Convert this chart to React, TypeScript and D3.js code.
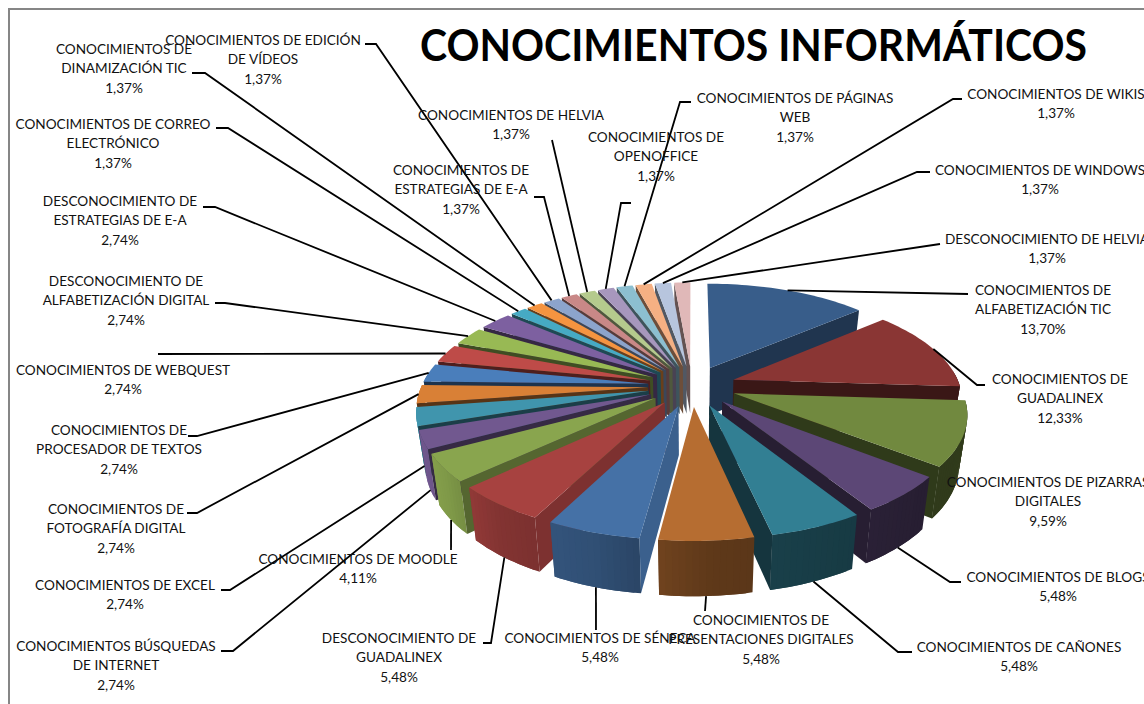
import React from "react";
import * as d3 from "d3";

const titleText = "CONOCIMIENTOS INFORMÁTICOS";

const values = [13.7, 12.33, 9.59, 5.48, 5.48, 5.48, 5.48, 5.48, 4.11, 2.74, 2.74, 2.74, 2.74, 2.74, 2.74, 2.74, 1.37, 1.37, 1.37, 1.37, 1.37, 1.37, 1.37, 1.37, 1.37, 1.37];

const percentLabels = ["13,70%", "12,33%", "9,59%", "5,48%", "5,48%", "5,48%", "5,48%", "5,48%", "4,11%", "2,74%", "2,74%", "2,74%", "2,74%", "2,74%", "2,74%", "2,74%", "1,37%", "1,37%", "1,37%", "1,37%", "1,37%", "1,37%", "1,37%", "1,37%", "1,37%", "1,37%"];

const categoryLines = [
  ["CONOCIMIENTOS DE", "ALFABETIZACIÓN TIC"],
  ["CONOCIMIENTOS DE", "GUADALINEX"],
  ["CONOCIMIENTOS DE PIZARRAS", "DIGITALES"],
  ["CONOCIMIENTOS DE BLOGS"],
  ["CONOCIMIENTOS DE CAÑONES"],
  ["CONOCIMIENTOS DE", "PRESENTACIONES DIGITALES"],
  ["CONOCIMIENTOS DE SÉNECA"],
  ["DESCONOCIMIENTO DE", "GUADALINEX"],
  ["CONOCIMIENTOS DE MOODLE"],
  ["CONOCIMIENTOS BÚSQUEDAS", "DE INTERNET"],
  ["CONOCIMIENTOS DE EXCEL"],
  ["CONOCIMIENTOS DE", "FOTOGRAFÍA DIGITAL"],
  ["CONOCIMIENTOS DE", "PROCESADOR DE TEXTOS"],
  ["CONOCIMIENTOS DE WEBQUEST"],
  ["DESCONOCIMIENTO DE", "ALFABETIZACIÓN DIGITAL"],
  ["DESCONOCIMIENTO DE", "ESTRATEGIAS DE E-A"],
  ["CONOCIMIENTOS DE CORREO", "ELECTRÓNICO"],
  ["CONOCIMIENTOS DE", "DINAMIZACIÓN TIC"],
  ["CONOCIMIENTOS DE EDICIÓN", "DE VÍDEOS"],
  ["CONOCIMIENTOS DE", "ESTRATEGIAS DE E-A"],
  ["CONOCIMIENTOS DE HELVIA"],
  ["CONOCIMIENTOS DE", "OPENOFFICE"],
  ["CONOCIMIENTOS DE PÁGINAS", "WEB"],
  ["CONOCIMIENTOS DE WIKIS"],
  ["CONOCIMIENTOS DE WINDOWS"],
  ["DESCONOCIMIENTO DE HELVIA"],
];

const palette = ["#385D8A", "#8A3634", "#71893F", "#5C4776", "#327F93", "#B66D31", "#4571A6", "#A74240", "#89A54E", "#71588F", "#4095AD", "#D98036", "#4A7EBB", "#BE4B48", "#98B954", "#7D60A0", "#46AAC4", "#F59440", "#8CA4CC", "#C98887", "#B5CA8D", "#A797BD", "#8CBFD0", "#F5B083", "#B7C5DE", "#E0B8B8"];

// label layout: centre x and the y of the first text line
const labelCx = [1043, 1060, 1048, 1058, 1019, 761, 600, 399, 358, 116, 125, 116, 119, 123, 126, 120, 113, 124, 263, 461, 511, 656, 795, 1056, 1040, 1047];
const labelTop = [290, 379, 482, 577, 647, 620, 638, 638, 559, 646, 585, 509, 430, 370, 281, 201, 124, 49, 40, 170, 115, 137, 98, 94, 170, 239];

// leader route after leaving the slice
const leaderRoutes: number[][][] = [
  [[968, 294]],
  [[977, 385], [985, 385]],
  [],
  [[950, 582], [961, 582]],
  [[898, 652], [912, 652]],
  [[705, 611]],
  [[596, 630]],
  [[491, 643], [483, 643]],
  [[451, 550]],
  [[233, 651], [221, 651]],
  [[230, 590], [221, 590]],
  [[197, 513], [187, 513]],
  [[197, 436], [188, 436]],
  [[158, 354]],
  [[225, 303], [215, 303]],
  [[215, 207], [203, 207]],
  [[228, 128], [216, 128]],
  [[205, 73], [192, 73]],
  [[376, 44], [365, 44]],
  [[544, 197], [534, 197]],
  [[552, 140]],
  [[621, 203], [631, 203]],
  [[680, 102], [691, 102]],
  [[953, 99], [962, 99]],
  [[917, 172], [930, 172]],
  [[940, 244]],
];

const cx = 692, cy = 386, R = 231, explode = 45, xFlatten = 0.98;
const persp = 0.00072, tilt = 0.45, wallH = 48, baseShrink = 0.97;
const toDeg = 180 / Math.PI;

const wallShade = d3.scaleLinear<number>().domain([0, 130, 177, 197, 217, 234, 250, 360]).range([0.5, 0.42, 0.52, 0.7, 0.78, 0.93, 1, 1]);
const startFaceShade = d3.scaleLinear<number>().domain([187, 207, 227, 242, 255, 360]).range([0.85, 0.75, 0.62, 0.47, 0.4, 0.45]);
const endFaceShade = d3.scaleLinear<number>().domain([0, 50, 94, 180]).range([0.57, 0.57, 0.42, 0.42]);

const pieGen = d3.pie<number>().sort(null).value((d) => d).startAngle(0).endAngle(2 * Math.PI);
const arcs = pieGen(values);

type Pt = [number, number];
function project(u: number, v: number, bottom: boolean): Pt {
  const s = 1 / (1 + persp * v);
  if (bottom) return [cx + xFlatten * u * s * baseShrink, cy - tilt * v * s * baseShrink + wallH * s];
  return [cx + xFlatten * u * s, cy - tilt * v * s];
}
function pointOf(mid: number, r: number, a: number, bottom: boolean): Pt {
  const u = explode * Math.sin(mid) + r * Math.sin(a);
  const v = explode * Math.cos(mid) + r * Math.cos(a);
  return project(u, v, bottom);
}
const line = d3.line<Pt>();
function shade(c: string, k: number) {
  const q = d3.rgb(c);
  return d3.rgb(q.r * k, q.g * k, q.b * k).formatHex();
}

const order = d3.range(values.length).sort((a, b) => {
  const ma = (arcs[a].startAngle + arcs[a].endAngle) / 2;
  const mb = (arcs[b].startAngle + arcs[b].endAngle) / 2;
  return Math.cos(mb) - Math.cos(ma);
});

function Slice({ i }: { i: number }) {
  const arc = arcs[i];
  const mid = (arc.startAngle + arc.endAngle) / 2;
  const base = palette[i];
  const startDeg = arc.startAngle * toDeg;
  const endDeg = arc.endAngle * toDeg;
  const steps = Math.max(3, Math.ceil((endDeg - startDeg) / 1.5));
  const angles = d3.range(steps + 1).map((k) => arc.startAngle + ((arc.endAngle - arc.startAngle) * k) / steps);

  const topPts: Pt[] = [pointOf(mid, 0, 0, false), ...angles.map((a) => pointOf(mid, R, a, false))];

  const walls: React.ReactNode[] = [];
  for (let k = 0; k < steps; k++) {
    const am = (angles[k] + angles[k + 1]) / 2;
    if (Math.cos(am) > 0.1) continue;
    const outline: Pt[] = [];
    for (let j = k; j <= Math.min(k + 2, steps); j++) outline.push(pointOf(mid, R, angles[j], false));
    for (let j = Math.min(k + 2, steps); j >= k; j--) outline.push(pointOf(mid, R, angles[j], true));
    const col = shade(base, wallShade(am * toDeg));
    walls.push(<path key={k} d={line(outline) + "Z"} fill={col} />);
  }

  const radial = (a: number): string =>
    line([pointOf(mid, 0, 0, false), pointOf(mid, R, a, false), pointOf(mid, R, a, true), pointOf(mid, 0, 0, true)] as Pt[]) + "Z";

  return (
    <g>
      {walls}
      {startDeg > 180 && <path d={radial(arc.startAngle)} fill={shade(base, startFaceShade(startDeg))} />}
      {endDeg < 180 && <path d={radial(arc.endAngle)} fill={shade(base, endFaceShade(endDeg))} />}
      <path d={line(topPts) + "Z"} fill={base} />
    </g>
  );
}

function leaderPath(i: number): string | null {
  const route = leaderRoutes[i];
  if (!route.length) return null;
  const arc = arcs[i];
  const mid = (arc.startAngle + arc.endAngle) / 2;
  const start = pointOf(mid, R, mid, Math.cos(mid) < -0.2);
  return line([start, ...(route as Pt[])]);
}

const labelFont = "Lato, sans-serif";

export default function App() {
  return (
    <svg width={1144} height={704} viewBox="0 0 1144 704" style={{ position: "absolute", left: 0, top: 0, display: "block", background: "#fff" }}>
      <path d="M9 704V9H1144" fill="none" stroke="#868686" strokeWidth={2} />
      <g>
        {order.map((i) => (
          <Slice key={i} i={i} />
        ))}
      </g>
      <g fill="none" stroke="#000" strokeWidth={1.8}>
        {values.map((_, i) => {
          const d = leaderPath(i);
          return d ? <path key={i} d={d} /> : null;
        })}
      </g>
      <g fontFamily={labelFont} fontSize={13.6} fill="#111" textAnchor="middle">
        {categoryLines.map((ls, i) => (
          <text key={i} x={labelCx[i]} y={labelTop[i]} dominantBaseline="central">
            {[...ls, percentLabels[i]].map((t, k) => (
              <tspan key={k} x={labelCx[i]} y={labelTop[i] + k * 19.4}>
                {t}
              </tspan>
            ))}
          </text>
        ))}
      </g>
      <text x={753.5} y={61} textAnchor="middle" fontFamily={labelFont} fontWeight={700} fontSize={44} fill="#000" textLength={667} lengthAdjust="spacingAndGlyphs">
        {titleText}
      </text>
    </svg>
  );
}
